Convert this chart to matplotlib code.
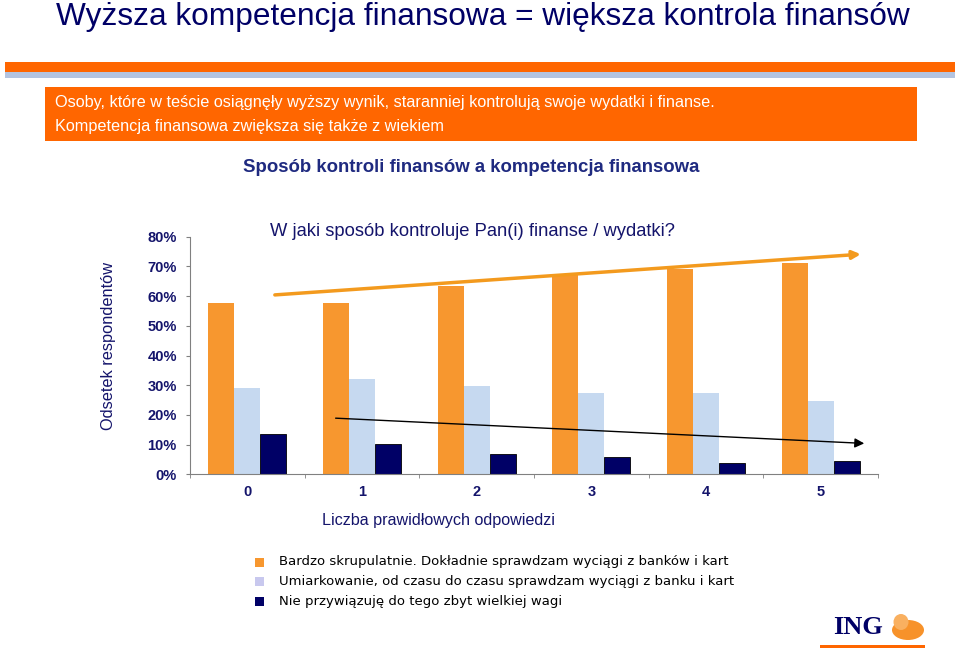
import matplotlib.pyplot as plt
import numpy as np
from matplotlib.patches import Rectangle, Ellipse

# data
categories = ["0", "1", "2", "3", "4", "5"]
very_careful = [57.6, 57.8, 63.5, 67.4, 69.1, 71.3]
moderate = [29.0, 32.1, 29.8, 27.5, 27.5, 24.6]
no_attention = [13.7, 10.1, 6.7, 5.9, 3.7, 4.4]
series_names = [
    "Bardzo skrupulatnie. Dokładnie sprawdzam wyciągi z banków i kart",
    "Umiarkowanie, od czasu do czasu sprawdzam wyciągi z banku i kart",
    "Nie przywiązuję do tego zbyt wielkiej wagi",
]
y_ticks = [0, 10, 20, 30, 40, 50, 60, 70, 80]
# trend arrows (category position, percent)
up_trend = ([0.24, 5.35], [60.4, 74.1])
down_trend = ([0.77, 5.38], [18.9, 10.4])

NAVY = "#14146b"
ORANGE = "#f7972f"
LIGHT = "#c6d9f0"
DARK = "#000066"
BAND = "#ff6600"

W, H = 959, 650
fig = plt.figure(figsize=(W / 100, H / 100), dpi=100)
plt.rcParams["font.family"] = ["Liberation Sans", "DejaVu Sans"]


def fx(px):
    return px / W


def fy(py):
    return 1 - py / H


# header
fig.text(fx(483), fy(17), "Wyższa kompetencja finansowa = większa kontrola finansów",
         ha="center", va="center", fontsize=22.8, color=DARK)
fig.patches.append(Rectangle((fx(5), fy(72.3)), fx(950), 10.6 / H,
                             transform=fig.transFigure, color=BAND, lw=0))
fig.patches.append(Rectangle((fx(5), fy(77.7)), fx(950), 5.4 / H,
                             transform=fig.transFigure, color="#b4c4e0", lw=0))
fig.patches.append(Rectangle((fx(45), fy(141)), fx(872), 54 / H,
                             transform=fig.transFigure, color=BAND, lw=0))
fig.text(fx(55), fy(103), "Osoby, które w teście osiągnęły wyższy wynik, staranniej kontrolują swoje wydatki i finanse.",
         ha="left", va="center", fontsize=11.7, color="white")
fig.text(fx(55), fy(127), "Kompetencja finansowa zwiększa się także z wiekiem",
         ha="left", va="center", fontsize=11.7, color="white")
fig.text(fx(471), fy(167), "Sposób kontroli finansów a kompetencja finansowa",
         ha="center", va="center", fontsize=13.4, fontweight="bold", color="#1f2a80")

# chart
ax = fig.add_axes([fx(190), fy(474.3), fx(688), (474.3 - 236.7) / H])
x = np.arange(len(categories))
bw = 0.226
ax.bar(x - bw, very_careful, bw, color=ORANGE, lw=0)
ax.bar(x, moderate, bw, color=LIGHT, lw=0)
ax.bar(x + bw, no_attention, bw, color=DARK, edgecolor="black", lw=0.6)

ax.annotate("", xy=(up_trend[0][1], up_trend[1][1]), xytext=(up_trend[0][0], up_trend[1][0]),
            arrowprops=dict(arrowstyle="-|>", color="#f39a1e", lw=2.5, mutation_scale=12,
                            shrinkA=0, shrinkB=0))
ax.annotate("", xy=(down_trend[0][1], down_trend[1][1]), xytext=(down_trend[0][0], down_trend[1][0]),
            arrowprops=dict(arrowstyle="-|>", color="black", lw=1.0, mutation_scale=14,
                            shrinkA=0, shrinkB=0))

ax.set_xlim(-0.5, 5.5)
ax.set_ylim(0, 80)
ax.set_yticks(y_ticks)
ax.set_yticklabels([f"{v}%" for v in y_ticks], fontweight="bold", color=NAVY, fontsize=10.5)
ax.set_xticks(x)
ax.set_xticklabels(categories, fontweight="bold", color=NAVY, fontsize=10.5)
ax.set_xticks(np.arange(-0.5, 6, 1), minor=True)
ax.tick_params(axis="x", which="major", length=0, pad=8)
ax.tick_params(axis="x", which="minor", length=3, color="#808080")
ax.tick_params(axis="y", length=3, color="#808080", pad=6.5)
for s in ["top", "right"]:
    ax.spines[s].set_visible(False)
for s in ["left", "bottom"]:
    ax.spines[s].set_color("#808080")

fig.text(fx(472), fy(231), "W jaki sposób kontroluje Pan(i) finanse / wydatki?",
         ha="center", va="center", fontsize=13.2, color=NAVY)
fig.text(fx(439), fy(520), "Liczba prawidłowych odpowiedzi",
         ha="center", va="center", fontsize=11.6, color=NAVY)
fig.text(fx(108), fy(346), "Odsetek respondentów", rotation=90,
         ha="center", va="center", fontsize=11.8, color=NAVY)

# legend
legend_colors = [ORANGE, "#c8c8ee", DARK]
for i, (name, c) in enumerate(zip(series_names, legend_colors)):
    yy = 562 + i * 19.5
    fig.patches.append(Rectangle((fx(255), fy(yy + 4.5)), 9 / W, 9 / H,
                                 transform=fig.transFigure, color=c, lw=0))
    fig.text(fx(279), fy(yy), name, ha="left", va="center", fontsize=9.5,
             color="black", family="DejaVu Sans")

# logo
fig.text(fx(858), fy(627), "ING", ha="center", va="center", fontsize=19,
         fontweight="bold", color=DARK, family="Liberation Serif")
fig.patches.append(Ellipse((fx(908), fy(630)), 32 / W, 20 / H,
                           transform=fig.transFigure, color="#f7922a", lw=0))
fig.patches.append(Ellipse((fx(901), fy(622)), 15 / W, 16 / H,
                           transform=fig.transFigure, color="#f9b060", lw=0))
fig.patches.append(Rectangle((fx(820), fy(648)), 105 / W, 3 / H,
                             transform=fig.transFigure, color=BAND, lw=0))

fig.savefig("out.png", dpi=100)
